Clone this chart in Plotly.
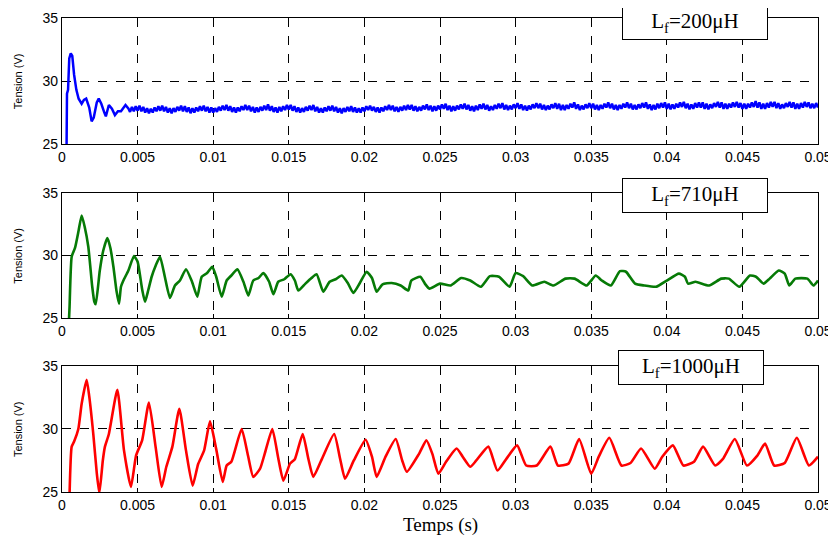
import numpy as np
import plotly.graph_objects as go
from plotly.subplots import make_subplots

# ---------------- data ----------------
# Lf = 200 uH (blue): transient part
blue_t_early = [0.0003, 0.00033, 0.0004, 0.00048, 0.00058, 0.00068, 0.0008, 0.00095, 0.0011,
                0.0013, 0.00145, 0.0016, 0.0018, 0.00196, 0.0021, 0.0023, 0.00243, 0.0026,
                0.0028, 0.0029, 0.0031, 0.0033, 0.0035, 0.0037, 0.0039, 0.0042, 0.0044]
blue_v_early = [24.5, 29.0, 29.3, 31.8, 32.2, 32.0, 30.5, 29.3, 28.6,
                28.2, 28.5, 28.6, 27.9, 26.8, 27.1, 28.3, 28.6, 28.2,
                27.5, 27.2, 28.1, 27.8, 27.3, 27.6, 27.6, 28.1, 27.8]
# steady state with ripple, every 0.125 ms from 4.5 ms
blue_ripple_start = 0.0045
blue_ripple_step = 0.000125
blue_v_ripple = [
    27.55, 27.95, 27.6, 28.0, 27.65, 28.05, 27.6, 27.95, 27.5, 27.85, 27.45, 27.8, 27.5, 27.9, 27.6, 28.0, 27.65, 28.05, 27.6, 27.95,
    27.5, 27.85, 27.45, 27.85, 27.55, 27.95, 27.65, 28.05, 27.6, 28.0, 27.55, 27.9, 27.45, 27.85, 27.5, 27.9, 27.6, 28.0, 27.65, 28.05,
    27.6, 27.95, 27.5, 27.9, 27.5, 27.85, 27.55, 27.95, 27.65, 28.05, 27.7, 28.1, 27.65, 28.0, 27.55, 27.9, 27.5, 27.9, 27.6, 28.0,
    27.7, 28.1, 27.7, 28.05, 27.6, 27.95, 27.5, 27.9, 27.55, 27.95, 27.65, 28.05, 27.7, 28.15, 27.65, 28.0, 27.55, 27.9, 27.5, 27.95,
    27.6, 28.0, 27.7, 28.1, 27.75, 28.1, 27.65, 28.0, 27.55, 27.9, 27.5, 27.85, 27.55, 27.95, 27.65, 28.05, 27.7, 28.1, 27.6, 27.95,
    27.5, 27.85, 27.5, 27.9, 27.6, 28.0, 27.65, 28.05, 27.6, 27.95, 27.5, 27.85, 27.45, 27.85, 27.55, 27.95, 27.6, 28.0, 27.55, 27.9,
    27.5, 27.85, 27.5, 27.9, 27.6, 28.0, 27.7, 28.05, 27.65, 27.95, 27.55, 27.9, 27.5, 27.9, 27.6, 28.0, 27.7, 28.1, 27.7, 28.05,
    27.6, 27.95, 27.55, 27.95, 27.65, 28.05, 27.7, 28.1, 27.75, 28.1, 27.65, 28.0, 27.6, 27.95, 27.65, 28.05, 27.75, 28.15, 27.7, 28.05,
    27.6, 28.0, 27.65, 28.05, 27.75, 28.15, 27.8, 28.2, 27.7, 28.05, 27.6, 28.0, 27.65, 28.05, 27.75, 28.15, 27.8, 28.2, 27.75, 28.1,
    27.65, 28.0, 27.6, 28.05, 27.7, 28.15, 27.8, 28.2, 27.75, 28.1, 27.65, 28.0, 27.7, 28.1, 27.8, 28.2, 27.85, 28.25, 27.75, 28.1,
    27.7, 28.05, 27.75, 28.15, 27.85, 28.25, 27.8, 28.15, 27.7, 28.05, 27.65, 28.05, 27.75, 28.15, 27.85, 28.25, 27.85, 28.2, 27.75, 28.1,
    27.7, 28.05, 27.75, 28.15, 27.85, 28.25, 27.8, 28.2, 27.7, 28.1, 27.7, 28.1, 27.8, 28.2, 27.9, 28.3, 27.8, 28.15, 27.7, 28.05,
    27.75, 28.15, 27.85, 28.25, 27.85, 28.2, 27.75, 28.1, 27.7, 28.1, 27.8, 28.2, 27.9, 28.3, 27.85, 28.2, 27.75, 28.1, 27.7, 28.1,
    27.8, 28.2, 27.9, 28.3, 27.85, 28.2, 27.75, 28.1, 27.75, 28.15, 27.85, 28.25, 27.9, 28.3, 27.8, 28.15, 27.7, 28.1, 27.75, 28.2,
    27.85, 28.25, 27.9, 28.3, 27.8, 28.2, 27.75, 28.15, 27.8, 28.2, 27.9, 28.3, 27.95, 28.35, 27.85, 28.2, 27.75, 28.15, 27.8, 28.25,
    27.9, 28.3, 27.9, 28.3, 27.8, 28.2, 27.75, 28.15, 27.85, 28.25, 27.95, 28.35, 27.9, 28.3, 27.8, 28.2, 27.8, 28.2, 27.9, 28.3,
    27.95, 28.35, 27.9, 28.25, 27.8, 28.2, 27.8, 28.2, 27.9, 28.3, 27.95, 28.4, 27.9, 28.3, 27.8, 28.2, 27.8, 28.25, 27.9, 28.35,
    27.95, 28.35, 27.85, 28.25, 27.8, 28.15, 27.85, 28.25, 27.95, 28.35, 27.9, 28.3, 27.8, 28.2, 27.8, 28.25, 27.9, 28.35, 27.95, 28.3,
    27.85, 28.2, 27.85, 28.25, 27.9,
]

# Lf = 710 uH (green)
green_t = [0.00046, 0.0005, 0.00064, 0.00086, 0.0011, 0.0013, 0.0015, 0.00174, 0.002, 0.00214, 0.00223,
           0.0025, 0.00273, 0.003, 0.0032, 0.0034, 0.0036, 0.00377, 0.0039, 0.00406, 0.00439, 0.00476,
           0.005, 0.0053, 0.00549, 0.0057, 0.00593, 0.0062, 0.00648, 0.0068, 0.00714, 0.00747, 0.0078,
           0.0082, 0.0086, 0.00895, 0.00924, 0.0096, 0.00994, 0.0102, 0.01056, 0.01089, 0.0112, 0.0116,
           0.012, 0.01232, 0.01265, 0.013, 0.01332, 0.0137, 0.01398, 0.0143, 0.0147, 0.01512, 0.0154,
           0.01563, 0.0161, 0.0165, 0.01684, 0.01728, 0.0177, 0.0181, 0.0185, 0.0189, 0.01927, 0.0197,
           0.02015, 0.0205, 0.02081, 0.0212, 0.0218, 0.0224, 0.0229, 0.0231, 0.0237, 0.024, 0.0243,
           0.025, 0.0257, 0.0264, 0.027, 0.0277, 0.0283, 0.0289, 0.0296, 0.03, 0.0305, 0.0311, 0.0319,
           0.0325, 0.0333, 0.0339, 0.0347, 0.0353, 0.0357, 0.0363, 0.0369, 0.0373, 0.0379, 0.0385,
           0.0393, 0.04, 0.0408, 0.0412, 0.0414, 0.0419, 0.0428, 0.0436, 0.0441, 0.0448, 0.0455,
           0.0459, 0.0464, 0.0468, 0.0474, 0.0478, 0.0481, 0.0485, 0.0493, 0.0497, 0.05]
green_v = [24.8, 25.9, 29.9, 30.6, 32.0, 33.2, 32.3, 30.7, 27.5, 26.3, 26.1,
           28.8, 30.4, 31.4, 30.6, 29.1, 27.2, 26.15, 27.5, 28.0, 28.8, 29.95,
           29.5, 27.3, 26.3, 27.2, 28.3, 29.2, 29.9, 28.3, 26.6, 27.6, 28.0,
           28.9, 27.9, 26.7, 28.3, 28.6, 29.1, 28.3, 26.7, 28.0, 28.4, 28.9,
           27.9, 26.8, 28.0, 28.2, 28.6, 27.9, 26.9, 27.9, 28.1, 28.5, 28.0,
           27.2, 27.75, 28.2, 28.5, 27.1, 27.9, 28.1, 28.4, 27.8, 27.0, 27.8,
           28.7, 28.2, 27.1, 27.7, 27.8, 27.6, 27.2, 28.0, 28.3, 27.75, 27.35,
           27.75, 27.6, 28.2, 28.0, 27.5, 28.35, 28.3, 27.5, 28.6, 28.35, 27.6, 27.9,
           27.6, 28.15, 28.15, 27.6, 28.4, 28.0, 27.6, 28.75, 28.7, 27.75, 27.6,
           27.5, 28.0, 28.55, 28.3, 27.75, 27.9, 27.6, 28.15, 28.15, 27.5, 28.4,
           28.3, 27.75, 28.15, 28.8, 28.55, 27.6, 28.15, 28.15, 27.6, 28.0]

# Lf = 1000 uH (red)
red_t = [0.0005, 0.00064, 0.0008, 0.00108, 0.0013, 0.00163, 0.0018, 0.00207, 0.0023, 0.00247,
         0.0027, 0.00284, 0.0031, 0.00366, 0.0041, 0.00456, 0.0049, 0.0053, 0.00575, 0.0062,
         0.00659, 0.0069, 0.0073, 0.00776, 0.0082, 0.00864, 0.009, 0.0094, 0.00979, 0.0102,
         0.01063, 0.01089, 0.0112, 0.01188, 0.0123, 0.01265, 0.0131, 0.0134, 0.01391, 0.0143,
         0.01464, 0.01508, 0.0154, 0.01592, 0.0163, 0.01662, 0.0172, 0.018, 0.0184, 0.01872,
         0.0193, 0.02008, 0.0205, 0.02081, 0.0214, 0.02207, 0.0225, 0.0228, 0.0236, 0.0241,
         0.0245, 0.02489, 0.0254, 0.0261, 0.0265, 0.027, 0.0274, 0.0282, 0.0288, 0.0294,
         0.0301, 0.0307, 0.0314, 0.0323, 0.0328, 0.0335, 0.0342, 0.035, 0.0355, 0.0362,
         0.037, 0.0376, 0.0383, 0.0392, 0.0397, 0.0404, 0.0411, 0.0418, 0.0424, 0.0432,
         0.0437, 0.0445, 0.0453, 0.046, 0.0465, 0.0471, 0.0478, 0.0486, 0.0494, 0.05]
red_v = [24.8, 28.6, 29.0, 30.0, 32.0, 33.9, 32.6, 29.6, 26.5, 24.9,
         27.5, 28.6, 29.6, 33.1, 28.3, 25.4, 27.9, 29.1, 32.1, 28.5,
         25.4, 27.0, 28.6, 31.6, 28.3, 25.5, 27.2, 28.3, 30.6, 28.4,
         25.8, 27.1, 27.4, 30.0, 27.9, 26.2, 26.85, 28.0, 30.0, 27.7,
         25.9, 27.25, 27.6, 29.6, 27.6, 26.2, 27.65, 29.6, 27.6, 26.05,
         27.5, 29.15, 27.8, 26.2, 27.8, 29.2, 27.5, 26.6, 28.0, 29.1,
         28.0, 26.45, 27.4, 28.45, 27.8, 27.0, 27.5, 28.6, 26.7, 27.65,
         28.7, 27.1, 27.1, 28.6, 27.1, 27.25, 29.2, 26.45, 27.8, 29.3,
         27.1, 27.3, 28.45, 26.85, 27.8, 28.7, 27.1, 27.4, 28.6, 27.1,
         27.6, 29.2, 27.1, 27.9, 28.85, 27.1, 27.3, 29.3, 27.1, 27.8]

x_tickvals = [0, 0.005, 0.01, 0.015, 0.02, 0.025, 0.03, 0.035, 0.04, 0.045, 0.05]
x_ticktext = ["0", "0.005", "0.01", "0.015", "0.02", "0.025", "0.03", "0.035", "0.04", "0.045", "0.05"]
y_tickvals = [25, 30, 35]
labels = ["L<sub>f</sub>=200μH", "L<sub>f</sub>=710μH", "L<sub>f</sub>=1000μH"]
y_title = "Tension (V)"
x_title = "Temps (s)"

# ---------------- figure ----------------
blue_t = list(blue_t_early) + [blue_ripple_start + blue_ripple_step * i for i in range(len(blue_v_ripple))]
blue_v = list(blue_v_early) + list(blue_v_ripple)

fig = make_subplots(rows=3, cols=1, vertical_spacing=0.1)
series = [(blue_t, blue_v, "#0000FF", 2.5, "linear"),
          (green_t, green_v, "#067A06", 2.6, "spline"),
          (red_t, red_v, "#FF0000", 2.6, "spline")]
for i, (t, v, c, w, shp) in enumerate(series, start=1):
    line = dict(color=c, width=w, shape=shp)
    if shp == "spline":
        line["smoothing"] = 0.5
    fig.add_trace(go.Scatter(x=t, y=v, mode="lines", line=line,
                             showlegend=False, hoverinfo="skip"), row=i, col=1)

tick_font = dict(family="Liberation Sans, Arial", size=14, color="black")
domains = [[0.734, 1.0], [0.367, 0.631], [0.0, 0.266]]
for i in range(1, 4):
    xa = "xaxis" if i == 1 else f"xaxis{i}"
    ya = "yaxis" if i == 1 else f"yaxis{i}"
    fig.layout[xa].update(range=[0, 0.05], tickvals=x_tickvals, ticktext=x_ticktext,
                          showline=True, mirror=True, linecolor="black", linewidth=1.2,
                          showgrid=True, gridcolor="black", griddash="dash", gridwidth=1,
                          ticks="inside", ticklen=4, tickcolor="black", zeroline=False,
                          automargin=False, ticklabeloverflow="allow", tickfont=tick_font)
    fig.layout[ya].update(range=[25, 35], tickvals=y_tickvals, domain=domains[i - 1],
                          showline=True, mirror=True, linecolor="black", linewidth=1.2,
                          showgrid=True, gridcolor="black", griddash="dash", gridwidth=1,
                          ticks="inside", ticklen=4, tickcolor="black", zeroline=False,
                          automargin=False, ticklabeloverflow="allow", tickfont=tick_font)
    # y-axis title placed at the left of each panel
    fig.add_annotation(text=y_title, xref="paper", yref="paper", x=-0.058,
                       y=(domains[i - 1][0] + domains[i - 1][1]) / 2, textangle=-90,
                       showarrow=False, xanchor="center", yanchor="middle",
                       font=dict(family="Liberation Sans, Arial", size=11, color="black"))

# x-axis title below the bottom panel
fig.add_annotation(text=x_title, xref="paper", yref="paper", x=0.5, y=-0.069,
                   showarrow=False, xanchor="center", yanchor="middle",
                   font=dict(family="Liberation Serif, Times New Roman", size=19, color="black"))

ann_y = [0.99, 0.625, 0.263]
ann_x = [0.837, 0.837, 0.832]
for lab, ay, ax in zip(labels, ann_y, ann_x):
    fig.add_annotation(text=lab, xref="paper", yref="paper", x=ax, y=ay, showarrow=False,
                       xanchor="center", yanchor="middle",
                       font=dict(family="Liberation Serif, Times New Roman", size=21, color="black"),
                       bgcolor="white", bordercolor="black", borderwidth=1, borderpad=3,
                       width=138, height=27)

# the page body adds an 8 px offset, so the figure is sized to fit the 836x536 window
fig.update_layout(width=828, height=528, margin=dict(l=54, r=18, t=10, b=44),
                  paper_bgcolor="white", plot_bgcolor="white")

fig.write_html("out.html")
